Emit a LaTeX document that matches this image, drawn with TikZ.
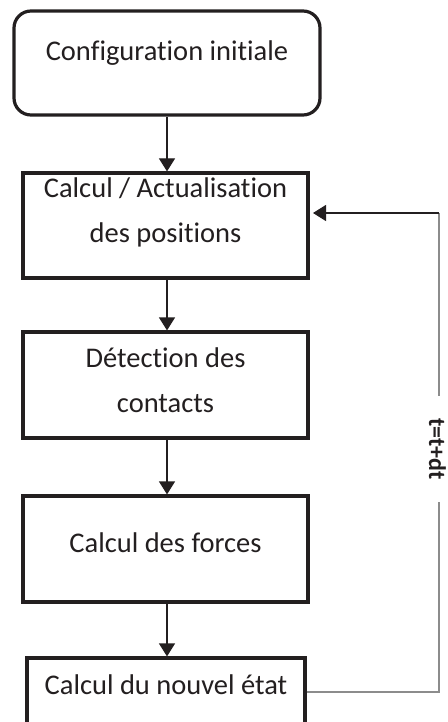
\documentclass[tikz,border=0pt]{standalone}
\usepackage{fontspec}
\setmainfont{Carlito}[Ligatures=NoCommon]
\usetikzlibrary{arrows.meta}
\definecolor{ink}{HTML}{231F20}
\definecolor{loopgray}{HTML}{8C8C8C}
\begin{document}
\begin{tikzpicture}[x=1pt,y=-1pt,
  box/.style={draw=ink, line width=3.2pt, minimum width=285pt, minimum height=105pt, inner sep=0pt},
  txt/.style={text=ink, font=\fontsize{28.5}{45}\selectfont, align=center, inner sep=0pt},
  flow/.style={draw=ink, line width=1.2pt, -{Triangle[length=13pt,width=16pt]}},
  loopline/.style={draw=loopgray, line width=1.5pt},
  lbl/.style={text=ink, font=\fontsize{24}{24}\selectfont\bfseries, rotate=-90, fill=white, inner xsep=22pt, inner ysep=1pt}
]
\useasboundingbox (0,0) rectangle (447,722);
\fill[white] (0,0) rectangle (447,722);
\begin{scope}
\clip (0,0) rectangle (447,722);
\node[box, rounded corners=17pt, minimum width=306pt, minimum height=104pt] (b1) at (167,63) {};
\node[box] (b2) at (165.5,225.5) {};
\node[box, minimum height=106pt] (b3) at (165.5,385) {};
\node[box, minimum height=106pt] (b4) at (165.5,549) {};
\node[box, minimum width=278pt] (b5) at (166,710.5) {};

\node[txt] (t1) at (167,53) {Configuration initiale};
\node[txt] (t2) at (165.5,212) {Calcul / Actualisation\\des positions};
\node[txt] (t3) at (165.5,380) {Détection des\\contacts};
\node[txt] (t4) at (165.5,543) {Calcul des forces};
\node[txt] (t5) at (166,685) {Calcul du nouvel état};

\draw[flow] (b1.south) -- (b1.south |- b2.north);
\draw[flow] (b2.south -| b1.south) -- (b1.south |- b3.north);
\draw[flow] (b3.south -| b1.south) -- (b1.south |- b4.north);
\draw[flow] (b4.south -| b1.south) -- (b1.south |- b5.north);

\coordinate (lb) at (439,692);
\coordinate (lt) at (439,213);
\coordinate (tip) at (313,213);
\draw[loopline] (b5.east |- lb) -- (lb) -- (lt);
\draw[flow] (lt) -- (tip);
\node[lbl] (tl) at (437.5,449) {t=t+dt};
\end{scope}
\end{tikzpicture}
\end{document}
